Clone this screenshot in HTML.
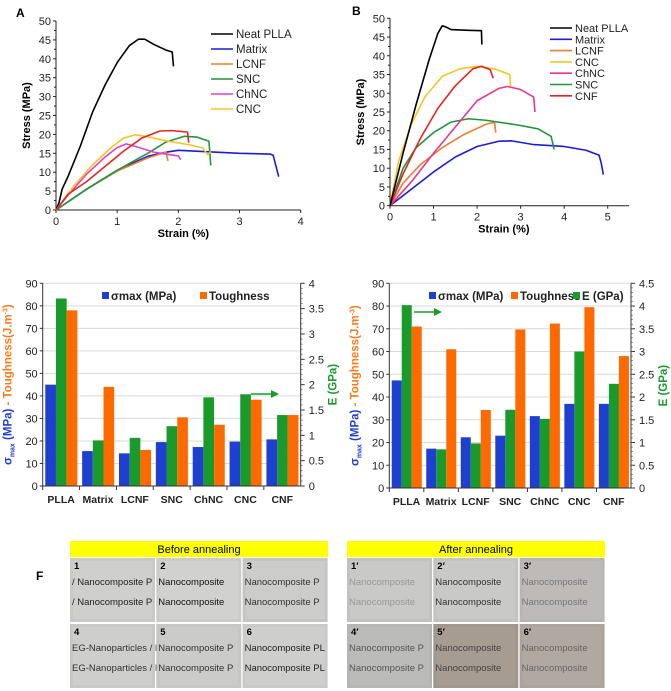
<!DOCTYPE html>
<html><head><meta charset="utf-8"><style>
body{margin:0;background:#fff;width:671px;height:691px;overflow:hidden}
svg{display:block;font-family:"Liberation Sans",sans-serif}
</style></head><body>
<svg id="fig" width="671" height="691" viewBox="0 0 671 691"></svg>
<script>
// ---- Data: Chart A ----
const aSeriesNames=["Neat PLLA","Matrix","LCNF","SNC","ChNC","CNC"];
const aNeatX=[0,0.05,0.1,0.2,0.4,0.6,0.8,1.0,1.2,1.35,1.45,1.6,1.8,1.9,1.92];
const aNeatY=[0,2,5.5,9,17,26,33,39,43.5,45.2,45.2,43.8,42.3,41.8,38];
const aMatrixX=[0,0.5,1,1.5,1.8,2.0,2.5,3.0,3.5,3.55,3.64];
const aMatrixY=[0,5.5,10.5,14.2,15.3,15.8,15.4,15.0,14.8,14.5,8.8];
const aLcnfX=[0,0.5,1,1.5,1.8,1.83];
const aLcnfY=[0,5.5,10.3,13.8,15.3,13];
const aSncX=[0,0.5,1,1.5,1.8,2.1,2.3,2.5,2.53];
const aSncY=[0,5.5,10.5,15,18,19.5,19.3,18.2,11.8];
const aChncX=[0,0.2,0.5,0.8,1.0,1.15,1.3,1.6,2.0,2.04];
const aChncY=[0,4,9.5,14,16.5,17.5,16.8,15.3,14.3,13.3];
const aCncX=[0,0.3,0.6,0.9,1.1,1.3,1.5,1.8,2.2,2.4,2.48,2.53];
const aCncY=[0,6.5,12,16.5,19,19.9,19.4,18.3,17.2,16.4,14.6,15.5];
const aCnfX=[0,0.2,0.5,0.8,1.1,1.4,1.7,1.9,2.15,2.17];
const aCnfY=[0,4.2,7.5,11.5,15.5,19,20.9,21,20.6,17.8];
// ---- Data: Chart B ----
const bSeriesNames=["Neat PLLA","Matrix","LCNF","CNC","ChNC","SNC","CNF"];
const bNeatX=[0,0.3,0.6,0.9,1.1,1.2,1.3,1.4,1.8,2.1,2.11];
const bNeatY=[0,14,27,39,46,48,47.6,47,46.8,46.7,43];
const bMatrixX=[0,0.5,1,1.5,2,2.5,2.8,3.3,4,4.5,4.8,4.85,4.9];
const bMatrixY=[0,4.5,9,13,15.8,17.2,17.3,16.3,15.8,14.8,13.5,11.5,8.3];
const bLcnfX=[0,0.3,0.7,1.2,1.7,2.2,2.4,2.43];
const bLcnfY=[0,6,11,15.5,19,21.7,22.3,19.5];
const bCncX=[0,0.2,0.5,0.8,1.2,1.6,2,2.4,2.75,2.77];
const bCncY=[0,12,22,29,34.5,36.5,37.2,36.5,35,31.8];
const bChncX=[0,0.5,1,1.5,2,2.5,2.7,3,3.3,3.33];
const bChncY=[0,6.5,14,21,28,31.3,31.8,31,29,25];
const bSncX=[0,0.3,0.6,1,1.4,1.8,2.2,3,3.4,3.7,3.77];
const bSncY=[0,10,15.5,19.5,22.3,23.2,22.8,21.4,20.5,18.5,15];
const bCnfX=[0,0.3,0.7,1.1,1.5,1.9,2.1,2.3,2.37];
const bCnfY=[0,8.5,18,26,32,36.5,37.2,36.3,34];
// ---- Data: bar charts ----
const categories=["PLLA","Matrix","LCNF","SNC","ChNC","CNC","CNF"];
const cSigma=[45,15.5,14.5,19.5,17.3,19.7,20.7];
const cE=[3.7,0.9,0.95,1.18,1.75,1.81,1.4];
const cTough=[78,44,16,30.5,27.2,38.3,31.5];
const dSigma=[47.3,17.3,22.3,23,31.6,37,37];
const dE=[4.02,0.85,0.98,1.72,1.52,3.0,2.29];
const dTough=[71,61,34.3,69.7,72.3,79.5,58];
const leftTicks=[0,10,20,30,40,50,60,70,80,90];
const cRightTicks=["0","0.5","1","1.5","2","2.5","3","3.5","4"];
const dRightTicks=["0","0.5","1","1.5","2","2.5","3","3.5","4","4.5"];

const NS="http://www.w3.org/2000/svg";
const svg=document.getElementById('fig');
function mk(tag,attrs,parent,text){const e=document.createElementNS(NS,tag);for(const k in attrs)e.setAttribute(k,attrs[k]);if(text!==undefined)e.textContent=text;(parent||svg).appendChild(e);return e;}

const C={black:"#000",blue:"#1c1cd8",orange:"#ed7d31",green:"#22943a",mag:"#e040c8",yellow:"#f7c521",red:"#e42424",pink:"#e8378f"};

function lineChart(o){
  const g=mk('g',{});
  
  
  const sx=v=>o.x0+(v-o.xmin)/(o.xmax-o.xmin)*(o.x1-o.x0);
  const sy=v=>o.y0-(v/o.ymax)*(o.y0-o.y1);
  mk('line',{x1:o.x0,y1:o.y0,x2:o.pr,y2:o.y0,stroke:'#222','stroke-width':1},g);
  mk('line',{x1:o.x0,y1:o.y0,x2:o.x0,y2:o.y1,stroke:'#222','stroke-width':1},g);
  for(let v=0;v<=o.ymax;v+=5){
    mk('line',{x1:o.x0-3,y1:sy(v),x2:o.x0,y2:sy(v),stroke:'#222'},g);
    if(v<o.ymax) mk('line',{x1:o.x0-2,y1:sy(v+2.5),x2:o.x0,y2:sy(v+2.5),stroke:'#222'},g);
    const t=mk('text',{x:o.x0-5,y:sy(v)+4,'text-anchor':'end','font-size':11,fill:'#222'},g,v);
    
  }
  for(let v=o.xmin;v<=o.xmax;v++){
    mk('line',{x1:sx(v),y1:o.y0,x2:sx(v),y2:o.y0+3,stroke:'#222'},g);
    const t=mk('text',{x:sx(v),y:o.y0+15,'text-anchor':'middle','font-size':11,fill:'#222'},g,v);
    
  }
  const xt=mk('text',{x:(o.x0+o.x1)/2+5,y:o.y0+27,'text-anchor':'middle','font-size':11,'font-weight':'bold'},g,'Strain (%)');
  
  const yt=mk('text',{x:0,y:0,'text-anchor':'middle','font-size':11,'font-weight':'bold',transform:`translate(${o.x0-26},${(o.y0+o.y1)/2}) rotate(-90)`},g,'Stress (MPa)');
  
  const pl=mk('text',{x:o.lx,y:o.ly,'font-size':12,'font-weight':'bold'},g,o.letter);
  
  o.series.forEach(s=>{
    const p=mk('polyline',{points:s.x.map((v,i)=>sx(v)+','+sy(s.y[i])).join(' '),fill:'none',stroke:s.c,'stroke-width':1.6,'stroke-linejoin':'round'},g);
    
    
  });
  o.legend.forEach((s,i)=>{
    const y=o.legY+i*o.legDy;
    const e=mk('g',{},g);
    
    mk('line',{x1:o.legX,y1:y,x2:o.legX+22,y2:y,stroke:s.c,'stroke-width':1.6},e);
    mk('text',{x:o.legX+25,y:y+4,'font-size':o.legFs,fill:'#222'},e,s.n);
  });
}

const aSeries=[
 {n:aSeriesNames[0],x:aNeatX,y:aNeatY,c:C.black},
 {n:aSeriesNames[1],x:aMatrixX,y:aMatrixY,c:C.blue},
 {n:aSeriesNames[2],x:aLcnfX,y:aLcnfY,c:C.orange},
 {n:aSeriesNames[3],x:aSncX,y:aSncY,c:C.green},
 {n:aSeriesNames[4],x:aChncX,y:aChncY,c:C.mag},
 {n:aSeriesNames[5],x:aCncX,y:aCncY,c:C.yellow},
 {n:"CNF",x:aCnfX,y:aCnfY,c:C.red}];
lineChart({name:'chart-a-stress-strain',letter:'A',lx:16,ly:17,x0:56,x1:300.7,pr:300.7,y0:210,y1:21,xmin:0,xmax:4,ymax:50,
 series:aSeries,legend:aSeries.slice(0,6),legX:211,legY:34,legDy:15,legFs:11.5});

const bSeries=[
 {n:bSeriesNames[0],x:bNeatX,y:bNeatY,c:C.black},
 {n:bSeriesNames[1],x:bMatrixX,y:bMatrixY,c:C.blue},
 {n:bSeriesNames[2],x:bLcnfX,y:bLcnfY,c:C.orange},
 {n:bSeriesNames[3],x:bCncX,y:bCncY,c:C.yellow},
 {n:bSeriesNames[4],x:bChncX,y:bChncY,c:C.pink},
 {n:bSeriesNames[5],x:bSncX,y:bSncY,c:C.green},
 {n:bSeriesNames[6],x:bCnfX,y:bCnfY,c:C.red}];
lineChart({name:'chart-b-stress-strain',letter:'B',lx:352,ly:15,x0:390,x1:607.7,pr:629,y0:205.7,y1:18.3,xmin:0,xmax:5,ymax:50,
 series:[bSeries[1],bSeries[2],bSeries[5],bSeries[4],bSeries[3],bSeries[6],bSeries[0]],legend:bSeries,legX:550,legY:28,legDy:11.3,legFs:11});

function barChart(o){
  const g=mk('g',{});
  
  const sy=v=>o.y0-v/90*(o.y0-o.y1);
  const sr=v=>o.y0-v/o.rmax*(o.y0-o.y1);
  leftTicks.forEach(v=>{
    if(v>0) mk('line',{x1:o.x0,y1:sy(v),x2:o.x1,y2:sy(v),stroke:'#d9d9d9'},g);
    mk('line',{x1:o.x0-3,y1:sy(v),x2:o.x0,y2:sy(v),stroke:'#333'},g);
    const t=mk('text',{x:o.x0-5,y:sy(v)+4,'text-anchor':'end','font-size':11,fill:'#222'},g,v);
    
  });
  o.rticks.forEach((v,i)=>{
    const yy=sr(parseFloat(v));
    mk('line',{x1:o.x1,y1:yy,x2:o.x1+4,y2:yy,stroke:'#333'},g);
    const t=mk('text',{x:o.x1+8,y:yy+4,'font-size':11,fill:'#222'},g,v);
    
  });
  for(let v=0;v<=o.rmax+1e-9;v+=0.1) mk('line',{x1:o.x1,y1:sr(v),x2:o.x1+2,y2:sr(v),stroke:'#555','stroke-width':0.6},g);
  const bw=(o.x1-o.x0)/categories.length;
  const w=bw*0.29, off=bw*0.07;
  categories.forEach((c,i)=>{
    const bx=o.x0+i*bw+off;
    const vals=[[o.sigma[i],sy(o.sigma[i]),'#1f3fd0','bar-sigma-'],[o.E[i],sr(o.E[i]),'#1a9a2a','bar-e-'],[o.tough[i],sy(o.tough[i]),'#ff6a00','bar-toughness-']];
    vals.forEach((v,j)=>{
      const r=mk('rect',{x:bx+j*w,y:v[1],width:w,height:o.y0-v[1],fill:v[2]},g);
      
    });
    mk('line',{x1:o.x0+i*bw,y1:o.y0,x2:o.x0+i*bw,y2:o.y0+4,stroke:'#333'},g);
    const t=mk('text',{x:o.x0+(i+0.5)*bw,y:o.y0+17,'text-anchor':'middle','font-size':10.5,'font-weight':'bold',fill:'#222'},g,c);
    
  });
  mk('line',{x1:o.x0,y1:o.y0,x2:o.x1,y2:o.y0,stroke:'#333'},g);
  mk('line',{x1:o.x0,y1:o.y0,x2:o.x0,y2:o.y1,stroke:'#333'},g);
  mk('line',{x1:o.x1,y1:o.y0,x2:o.x1,y2:o.y1,stroke:'#333'},g);
  const lg=mk('g',{},g);
  mk('rect',{x:o.legX-3,y:o.legY-9,width:o.legW,height:14,fill:'#fff'},lg);
  o.leg.forEach(l=>{
    mk('rect',{x:l[0],y:o.legY-7,width:7,height:7,fill:l[1]},lg);
    mk('text',{x:l[0]+9,y:o.legY+1,'font-size':11.5,'font-weight':'bold',fill:'#222'},lg,l[2]);
  });
  const yt=mk('text',{'font-size':11.5,'font-weight':'bold','text-anchor':'middle',transform:`translate(${o.x0-31},${(o.y0+o.y1)/2}) rotate(-90)`},g);
  
  mk('tspan',{fill:'#1f3fd0'},yt,'σ');
  mk('tspan',{fill:'#1f3fd0','font-size':7,dy:3},yt,'max');
  mk('tspan',{fill:'#1f3fd0',dy:-3},yt,' (MPa)');
  mk('tspan',{fill:'#ff7a1a'},yt,'  -  Toughness(J.m');
  mk('tspan',{fill:'#ff7a1a','font-size':7,dy:-4},yt,'-3');
  mk('tspan',{fill:'#ff7a1a',dy:4},yt,')');
  const rt=mk('text',{'font-size':11.5,'font-weight':'bold','text-anchor':'middle',fill:'#1a9a2a',transform:`translate(${o.x1+36},${(o.y0+o.y1)/2}) rotate(-90)`},g,'E (GPa)');
  
  const ar=mk('g',{},g);
  mk('line',{x1:o.arX,y1:o.arY,x2:o.arX+22,y2:o.arY,stroke:'#1a9a2a','stroke-width':1.5},ar);
  mk('polygon',{points:`${o.arX+28},${o.arY} ${o.arX+20},${o.arY-4} ${o.arX+20},${o.arY+4}`,fill:'#1a9a2a'},ar);
}
barChart({name:'chart-c-bar',x0:42.7,x1:300.7,y0:486,y1:283.3,rmax:4,rticks:cRightTicks,sigma:cSigma,E:cE,tough:cTough,
 legX:102,legY:299,legW:155,leg:[[102,'#1f3fd0','σmax (MPa)'],[200,'#ff6a00','Toughness']],arX:251,arY:394});
barChart({name:'chart-d-bar',x0:389.3,x1:631,y0:488,y1:283.3,rmax:4.5,rticks:dRightTicks,sigma:dSigma,E:dE,tough:dTough,
 legX:429,legY:299,legW:200,leg:[[429,'#1f3fd0','σmax (MPa)'],[511,'#ff6a00','Toughness'],[573,'#1a9a2a','E (GPa)']],arX:414,arY:312});

// ---- Photo panel F ----
const fl=mk('text',{x:36,y:580,'font-size':12,'font-weight':'bold'},svg,'F');

function photoPanel(x,title,tiles,name){
  const g=mk('g',{});
  mk('rect',{x:x,y:541,width:258,height:16,fill:'#ffff00'},g);
  mk('text',{x:x+129,y:553,'text-anchor':'middle','font-size':11},g,title);
  tiles.forEach((t,i)=>{
    const tx=x+(i%3)*86.3, ty=558+Math.floor(i/3)*66;
    const r=mk('g',{},g);
    mk('rect',{x:tx,y:ty,width:85,height:64,fill:t[1]},r);
    mk('rect',{x:tx+3,y:ty+3,width:79,height:58,fill:t[2],opacity:0.5},r);
    mk('text',{x:tx+4,y:ty+11,'font-size':9.5,'font-weight':'bold'},r,t[0]);
    mk('text',{x:tx+2,y:ty+27,'font-size':9.5,fill:t[3]},r,t[4]);
    mk('text',{x:tx+2,y:ty+47,'font-size':9.5,fill:t[3]},r,t[4]);
  });
}
photoPanel(70,'Before annealing',[
 ['1','#c9c9c7','#d6d6d4','#222','/ Nanocomposite P'],['2','#cbcbc9','#d8d8d6','#111','Nanocomposite'],['3','#c4c4c2','#d4d4d2','#333','Nanocomposite P'],
 ['4','#c8c8c6','#d4d4d2','#333','EG-Nanoparticles / N'],['5','#c6c6c4','#d0d0ce','#333','Nanocomposite P'],['6','#c9c9c7','#d3d3d1','#222','Nanocomposite PL']],'photos-before-annealing');
photoPanel(347,'After annealing',[
 ["1′",'#c2c2c0','#cfcfcd','#999','Nanocomposite'],["2′",'#c3c3c0','#d0d0cd','#333','Nanocomposite'],["3′",'#b9b5b2','#c4c0bd','#777','Nanocomposite'],
 ["4′",'#b5b5b3','#c2c2c0','#555','Nanocomposite P'],["5′",'#a0968c','#aca298','#444','Nanocomposite'],["6′",'#aca49c','#b6aea6','#666','Nanocomposite']],'photos-after-annealing');
</script>
</body></html>
